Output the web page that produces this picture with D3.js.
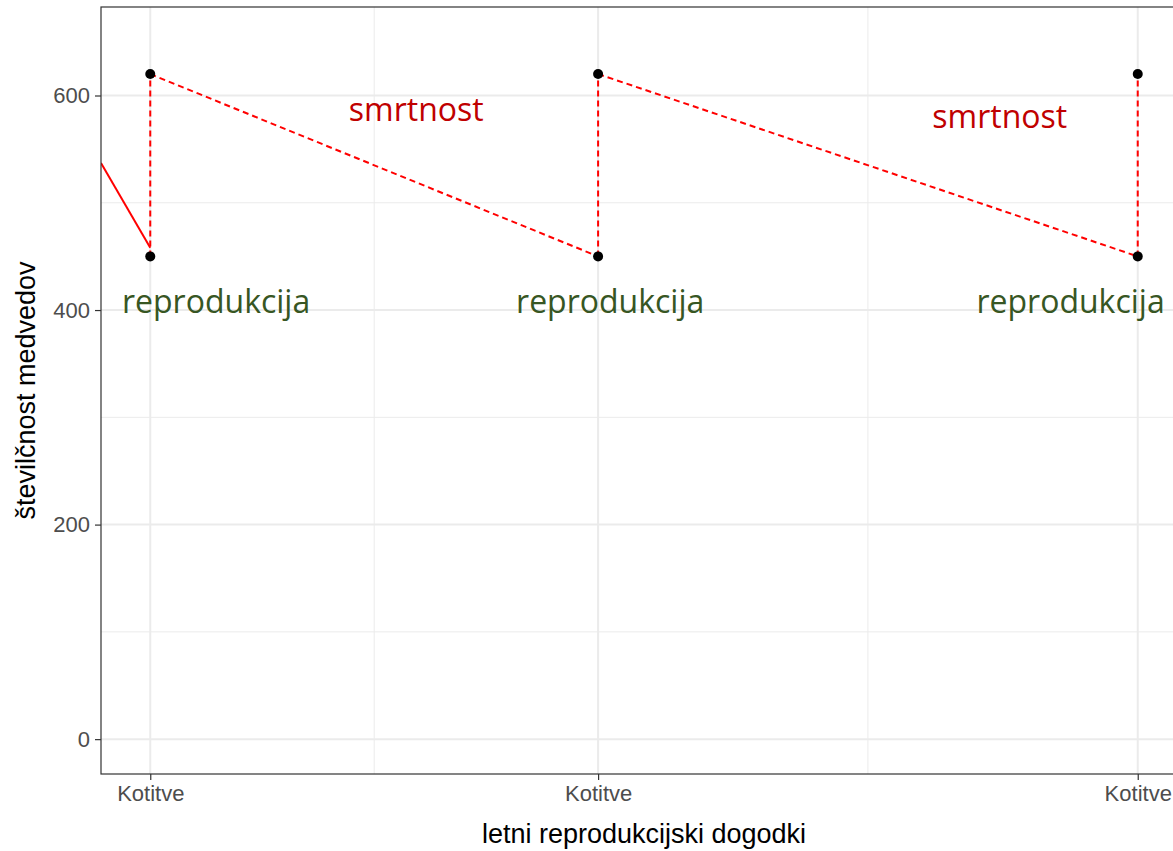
<!DOCTYPE html>
<html>
<head>
<meta charset="utf-8">
<script src="https://cdn.jsdelivr.net/npm/d3@7"></script>
<style>
  body { margin: 0; background: #fff; }
  svg { display: block; }
</style>
</head>
<body>
<script>
// data
var eventX = [0, 1, 2.205],
    eventLabels = ['Kotitve', 'Kotitve', 'Kotitve'],
    lowValues = [450, 450, 450],
    highValues = [620, 620, 620];

// solid line entering from the left of the panel
var solidX = [-0.11, 0],
    solidY = [537, 458];

var deathX = [0.594, 1.897],
    deathY = [576, 570],
    birthX = [0.147, 1.027, 2.055],
    birthY = [397, 397, 397];

var yTicks = [0, 200, 400, 600],
    yMinor = [100, 300, 500],
    xMinor = [0.5, 1.6025];

//setup graph size
var W = 1173, H = 851;
var pLeft = 101, pTop = 7, pRight = 1187, pBottom = 774;

var xScale = d3.scaleLinear().domain([-0.11, 2.315]).range([pLeft, pRight]);
var yScale = d3.scaleLinear().domain([-32.5, 682.5]).range([pBottom, pTop]);

var svg = d3.select('body').append('svg')
    .attr('width', W)
    .attr('height', H);

svg.append('clipPath').attr('id', 'panel')
    .append('rect')
    .attr('x', pLeft).attr('y', pTop)
    .attr('width', pRight - pLeft).attr('height', pBottom - pTop);

//grid lines
var grid = svg.append('g');
grid.selectAll('.ymin').data(yMinor).enter().append('line')
    .attr('x1', pLeft).attr('x2', pRight)
    .attr('y1', yScale).attr('y2', yScale)
    .attr('stroke', '#ebebeb').attr('stroke-width', 1);
grid.selectAll('.xmin').data(xMinor).enter().append('line')
    .attr('y1', pTop).attr('y2', pBottom)
    .attr('x1', xScale).attr('x2', xScale)
    .attr('stroke', '#ebebeb').attr('stroke-width', 1);
grid.selectAll('.ymaj').data(yTicks).enter().append('line')
    .attr('x1', pLeft).attr('x2', pRight)
    .attr('y1', yScale).attr('y2', yScale)
    .attr('stroke', '#ebebeb').attr('stroke-width', 2);
grid.selectAll('.xmaj').data(eventX).enter().append('line')
    .attr('y1', pTop).attr('y2', pBottom)
    .attr('x1', xScale).attr('x2', xScale)
    .attr('stroke', '#ebebeb').attr('stroke-width', 2);

var plot = svg.append('g').attr('clip-path', 'url(#panel)');

//solid red segment
var line = d3.line().x(function(d) { return xScale(d[0]); }).y(function(d) { return yScale(d[1]); });
plot.append('path')
    .datum(d3.zip(solidX, solidY))
    .attr('d', line)
    .attr('fill', 'none')
    .attr('stroke', '#ff0000')
    .attr('stroke-width', 2);

//dashed saw-tooth: jump up at each event, decline to the next
var dashed = [];
eventX.forEach(function(x, i) {
    dashed.push([[x, lowValues[i]], [x, highValues[i]]]);
    if (i < eventX.length - 1) dashed.push([[x, highValues[i]], [eventX[i + 1], lowValues[i + 1]]]);
});
plot.selectAll('.dash').data(dashed).enter().append('path')
    .attr('d', line)
    .attr('fill', 'none')
    .attr('stroke', '#ff0000')
    .attr('stroke-width', 2)
    .attr('stroke-dasharray', '6,4');

//points
var pts = [];
eventX.forEach(function(x, i) { pts.push([x, lowValues[i]], [x, highValues[i]]); });
plot.selectAll('circle').data(pts).enter().append('circle')
    .attr('cx', function(d) { return xScale(d[0]); })
    .attr('cy', function(d) { return yScale(d[1]); })
    .attr('r', 5)
    .attr('fill', '#000');

//annotations
svg.selectAll('.death').data(d3.zip(deathX, deathY)).enter().append('text')
    .attr('x', function(d) { return xScale(d[0]); })
    .attr('y', function(d) { return yScale(d[1]); })
    .attr('text-anchor', 'middle')
    .attr('font-family', '"Open Sans", sans-serif')
    .attr('font-size', 32)
    .attr('fill', '#c00000')
    .text('smrtnost');
svg.selectAll('.birth').data(d3.zip(birthX, birthY)).enter().append('text')
    .attr('x', function(d) { return xScale(d[0]); })
    .attr('y', function(d) { return yScale(d[1]); })
    .attr('text-anchor', 'middle')
    .attr('font-family', '"Open Sans", sans-serif')
    .attr('font-size', 32)
    .attr('fill', '#375623')
    .text('reprodukcija');

//panel border
svg.append('rect')
    .attr('x', pLeft).attr('y', pTop)
    .attr('width', pRight - pLeft).attr('height', pBottom - pTop)
    .attr('fill', 'none').attr('stroke', '#333').attr('stroke-width', 1.2);

//axes
var xAxis = d3.axisBottom(xScale).tickValues(eventX)
    .tickFormat(function(d, i) { return eventLabels[i]; })
    .tickSize(6).tickPadding(5);
var yAxis = d3.axisLeft(yScale).tickValues(yTicks).tickSize(6).tickPadding(5);

var gx = svg.append('g').attr('transform', 'translate(0,' + pBottom + ')').call(xAxis);
var gy = svg.append('g').attr('transform', 'translate(' + pLeft + ',0)').call(yAxis);
[gx, gy].forEach(function(g) {
    g.select('.domain').remove();
    g.selectAll('.tick line').attr('stroke', '#333').attr('stroke-width', 1.2);
    g.selectAll('.tick text')
        .attr('fill', '#4d4d4d')
        .attr('font-family', '"Liberation Sans", Arial, sans-serif')
        .attr('font-size', 22);
});

//axis titles
svg.append('text')
    .attr('x', (pLeft + pRight) / 2).attr('y', 843)
    .attr('text-anchor', 'middle')
    .attr('font-family', '"Liberation Sans", Arial, sans-serif')
    .attr('font-size', 27)
    .attr('fill', '#000')
    .text('letni reprodukcijski dogodki');
svg.append('text')
    .attr('transform', 'translate(35,' + (pTop + pBottom) / 2 + ') rotate(-90)')
    .attr('text-anchor', 'middle')
    .attr('font-family', '"Liberation Sans", Arial, sans-serif')
    .attr('font-size', 27)
    .attr('fill', '#000')
    .text('številčnost medvedov');
</script>
</body>
</html>
